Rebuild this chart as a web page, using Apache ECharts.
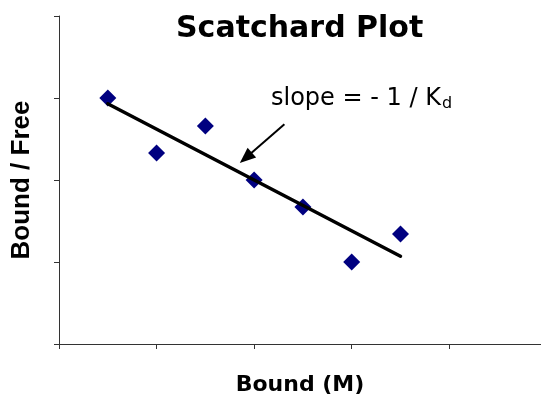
<!DOCTYPE html>
<html><head><meta charset="utf-8">
<script src="https://cdn.jsdelivr.net/npm/echarts@6/dist/echarts.min.js"></script>
<style>html,body{margin:0;padding:0;background:#fff}#c{width:541px;height:401px}</style>
</head><body><div id="c"></div>
<script>
const boundX = [0.5, 1.0, 1.5, 2.0, 2.5, 3.0, 3.5];
const boundFree = [3.0, 2.33, 2.66, 2.0, 1.67, 1.0, 1.34];
const fitX = [0.5, 3.5];
const fitY = [2.93, 1.07];
const arrowFrom = [2.31, 2.68];
const arrowTo = [1.915, 2.27];
const titleText = 'Scatchard Plot';
const xName = 'Bound (M)';
const yName = 'Bound / Free';

const chart = echarts.init(document.getElementById('c'), null, {renderer: 'canvas'});
const axisColor = '#333';
chart.setOption({
  animation: false,
  backgroundColor: '#fff',
  title: {
    text: titleText, left: 171, top: 9,
    textStyle: {fontFamily: 'DejaVu Sans', fontWeight: 'bold', fontSize: 30, color: '#000'}
  },
  grid: {left: 59, right: 0, top: 16, bottom: 57, containLabel: false},
  xAxis: {
    type: 'value', min: 0, max: 4.94, interval: 1,
    name: xName, nameLocation: 'middle', nameGap: 30,
    nameTextStyle: {fontFamily: 'DejaVu Sans', fontWeight: 'bold', fontSize: 22, color: '#000'},
    axisLine: {show: true, lineStyle: {color: axisColor, width: 1}},
    axisTick: {show: true, inside: false, length: 5, lineStyle: {color: axisColor}},
    axisLabel: {show: false}, splitLine: {show: false}
  },
  yAxis: {
    type: 'value', min: 0, max: 4, interval: 1,
    name: yName, nameLocation: 'middle', nameGap: 24, nameRotate: 90,
    nameTextStyle: {fontFamily: 'Liberation Sans', fontWeight: 'bold', fontSize: 26, color: '#000'},
    axisLine: {show: true, lineStyle: {color: axisColor, width: 1}},
    axisTick: {show: true, inside: false, length: 5, lineStyle: {color: axisColor}},
    axisLabel: {show: false}, splitLine: {show: false}
  },
  series: [
    {
      type: 'scatter', z: 2,
      data: boundX.map((x, i) => [x, boundFree[i]]),
      symbol: 'diamond', symbolSize: 17,
      itemStyle: {color: '#000080', opacity: 1}
    },
    {
      type: 'line', z: 3,
      data: fitX.map((x, i) => [x, fitY[i]]),
      showSymbol: false, symbol: 'none',
      lineStyle: {color: '#000', width: 3.5, cap: 'round'},
      markLine: {
        silent: true, animation: false,
        symbol: ['none', 'triangle'], symbolSize: [13, 16],
        label: {show: false},
        lineStyle: {color: '#000', width: 2, type: 'solid'},
        itemStyle: {color: '#000'},
        data: [[{coord: arrowFrom}, {coord: arrowTo}]]
      }
    }
  ],
  graphic: [
    {
      type: 'text', left: 271, top: 87, z: 10,
      style: {text: 'slope = - 1 / K', fontFamily: 'DejaVu Sans', fontSize: 24, fill: '#000'}
    },
    {
      type: 'text', left: 442, top: 96, z: 10,
      style: {text: 'd', fontFamily: 'DejaVu Sans', fontSize: 16, fill: '#000'}
    }
  ]
});
</script></body></html>
